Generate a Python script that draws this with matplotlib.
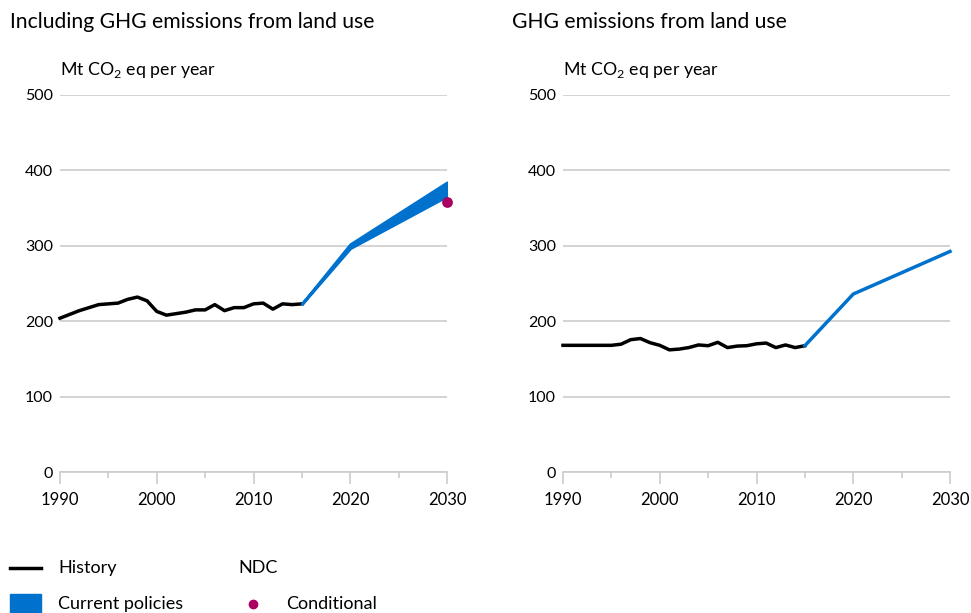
import matplotlib
matplotlib.use("Agg")
import matplotlib.pyplot as plt
from matplotlib.lines import Line2D
from matplotlib.patches import Rectangle
from matplotlib.ticker import MultipleLocator

plt.rcParams['font.family'] = ['Lato', 'DejaVu Sans']
plt.rcParams['mathtext.fontset'] = 'custom'
plt.rcParams['mathtext.rm'] = 'Lato'

# Data
hist_years = list(range(1990, 2016))
hist_total = [204, 209, 214, 218, 222, 223, 224, 229, 232, 227, 213, 208, 210, 212,
              215, 215, 222, 214, 218, 218, 223, 224, 216, 223, 222, 223]
hist_land = [168, 168, 168, 168, 168, 168, 169.5, 175.5, 177, 171.5, 168, 162, 163, 165,
             168.5, 167.5, 172, 165, 167, 167.5, 170, 171, 165, 168.5, 165, 167.5]

cp_years = [2015, 2020, 2030]
cp_total_low = [223, 297, 366]
cp_total_high = [223, 302, 384]
cp_land = [167.5, 236, 292.5]

ndc_year = [2030]
ndc_conditional = [358]

titles = ['Including GHG emissions from land use', 'GHG emissions from land use']

black = '#000000'
blue = '#0072CE'
violet = '#A90061'
grid = '#cccccc'

fig = plt.figure(figsize=(9.71, 6.13), dpi=100)
W, H = 971, 613

def px(x, y):
    return x / W, 1 - y / H

ax1 = fig.add_axes([60 / W, (613 - 472) / H, 387 / W, 377 / H])
ax2 = fig.add_axes([563 / W, (613 - 472) / H, 387 / W, 377 / H])

for ax, title, left in [(ax1, titles[0], 10), (ax2, titles[1], 512)]:
    ax.set_xlim(1990, 2030)
    ax.set_ylim(0, 500)
    for s in ['top', 'right', 'left']:
        ax.spines[s].set_visible(False)
    ax.spines['bottom'].set_color(grid)
    ax.spines['bottom'].set_linewidth(1.2)
    ax.set_yticks([0, 100, 200, 300, 400, 500])
    ax.set_xticks([1990, 2000, 2010, 2020, 2030])
    ax.xaxis.set_minor_locator(MultipleLocator(5))
    ax.tick_params(axis='y', length=0, pad=5, labelsize=11.5)
    ax.tick_params(axis='x', which='major', length=8.5, width=1.2, color=grid,
                   pad=6, labelsize=12)
    ax.tick_params(axis='x', which='minor', length=4.5, width=1.2, color=grid)
    ax.grid(axis='y', color=grid, linewidth=1.2)
    ax.set_axisbelow(True)
    fig.text(*px(left, 22), title, fontsize=15.2, va='center', ha='left')
    fig.text(*px(ax.get_position().x0 * W, 70), r'Mt CO$_\mathregular{2}$ eq per year',
             fontsize=12.8, va='center', ha='left')

ax1.plot(hist_years, hist_total, color=black, lw=2.5, clip_on=False, zorder=3)
ax1.fill_between(cp_years, cp_total_low, cp_total_high, color=blue, lw=2.2,
                 edgecolor=blue, zorder=3)
ax1.scatter(ndc_year, ndc_conditional, color=violet, s=45, zorder=4, clip_on=False)

ax2.plot(hist_years, hist_land, color=black, lw=2.5, clip_on=False, zorder=3)
ax2.plot(cp_years, cp_land, color=blue, lw=2.5, clip_on=False, zorder=3)

# Legend
fig.add_artist(Line2D([10 / W, 41 / W], [1 - 568 / H] * 2, color=black, lw=2.5))
fig.add_artist(Rectangle(px(10, 613), 31 / W, 19 / H, color=blue))
fig.text(*px(58, 568), 'History', fontsize=13, va='center')
fig.text(*px(58, 604), 'Current policies', fontsize=13, va='center')
fig.text(*px(238, 568), 'NDC', fontsize=13, va='center')
fig.add_artist(Line2D([253 / W], [1 - 604 / H], marker='o', color=violet,
                      markersize=6, lw=0))
fig.text(*px(286, 604), 'Conditional', fontsize=13, va='center')

fig.savefig('out.png', dpi=100)
